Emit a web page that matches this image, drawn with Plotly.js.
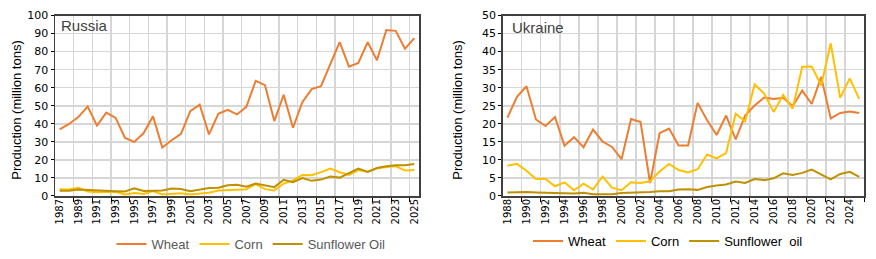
<!DOCTYPE html>
<html>
<head>
<meta charset="utf-8">
<script src="https://cdn.plot.ly/plotly-3.0.1.min.js"></script>
<style>
  html, body { margin: 0; padding: 0; background: #fff; }
  #chart { width: 876px; height: 259px; }
</style>
</head>
<body>
<div id="chart"></div>
<script>
// Grain and oilseed output, million tons
const yearsRU = [1987,1988,1989,1990,1991,1992,1993,1994,1995,1996,1997,1998,1999,2000,
  2001,2002,2003,2004,2005,2006,2007,2008,2009,2010,2011,2012,2013,2014,2015,2016,2017,
  2018,2019,2020,2021,2022,2023,2024,2025];
const wheatRU = [36.9,39.9,43.7,49.6,39.0,46.2,43.3,32.2,30.0,34.9,44.2,26.9,30.9,34.4,
  47.0,50.6,34.1,45.5,47.7,45.2,49.4,63.8,61.4,41.5,56.1,37.8,52.0,59.2,60.9,72.8,85.2,
  71.7,73.7,85.2,75.2,92.0,91.5,81.6,87.5];
const cornRU = [3.8,3.6,4.5,2.5,2.1,2.1,2.4,0.9,1.7,1.1,2.7,0.8,1.1,1.5,
  0.8,1.3,1.8,3.1,3.1,3.5,3.7,6.6,3.8,3.1,6.9,8.6,11.7,11.5,13.2,15.2,13.2,
  11.7,14.4,13.5,15.4,16.1,16.6,14.1,14.4];
const sunoilRU = [2.9,2.9,3.6,3.3,2.9,3.0,2.7,2.5,4.2,2.8,2.8,3.0,4.2,3.9,
  2.7,3.5,4.4,4.6,6.0,6.2,5.1,6.9,6.0,4.9,9.0,7.7,9.9,8.4,9.1,10.8,10.2,
  12.8,15.2,13.3,15.5,16.5,17.0,17.0,17.7];

const yearsUA = [1988,1989,1990,1991,1992,1993,1994,1995,1996,1997,1998,1999,2000,
  2001,2002,2003,2004,2005,2006,2007,2008,2009,2010,2011,2012,2013,2014,2015,2016,2017,
  2018,2019,2020,2021,2022,2023,2024,2025];
const wheatUA = [21.7,27.5,30.4,21.2,19.4,21.9,13.9,16.3,13.5,18.4,15.1,13.6,10.2,
  21.3,20.5,3.6,17.4,18.7,14.0,14.0,25.8,21.0,16.9,22.3,15.7,22.3,25.1,27.3,26.9,27.2,
  24.9,29.2,25.5,33.0,21.5,23.0,23.4,23.0];
const cornUA = [8.4,8.9,7.0,4.7,4.7,2.7,3.8,1.6,3.4,1.8,5.4,2.3,1.6,
  3.8,3.6,4.1,6.8,8.9,7.2,6.5,7.4,11.5,10.4,11.9,22.8,20.7,30.9,28.4,23.3,28.0,
  24.2,35.8,35.9,30.6,42.3,27.2,32.6,26.9];
const sunoilUA = [1.0,1.1,1.1,1.0,0.9,0.8,0.8,0.7,0.9,0.5,0.5,0.5,0.8,
  0.9,0.8,1.1,1.3,1.3,1.8,1.9,1.7,2.5,2.9,3.2,4.0,3.6,4.7,4.4,4.9,6.3,
  5.8,6.4,7.3,5.9,4.6,6.1,6.7,5.3];

const namesRU = ['Wheat', 'Corn', 'Sunflower Oil'];
const namesUA = ['Wheat', 'Corn', 'Sunflower  oil'];
const colors = ['#ED7D31', '#FFC000', '#BF9000'];
const GRID = '#d6d6d6';
const GRID_W = 1.5;

const W = 876, H = 259;
const px = v => v / W;
const py = v => 1 - v / H;

function line(x, y, name, color, xa, ya, legend) {
  return { type: 'scatter', mode: 'lines', x, y, name, xaxis: xa, yaxis: ya, legend,
    line: { color, width: 2 }, hoverinfo: 'skip' };
}

const traces = [];
// empty traces bind the companion grid and label axes so they get drawn
traces.push({ type: 'scatter', mode: 'none', x: [yearsRU[0]], y: [0], xaxis: 'x', yaxis: 'y3',
  showlegend: false, hoverinfo: 'skip' });
traces.push({ type: 'scatter', mode: 'none', x: [yearsUA[0]], y: [0], xaxis: 'x2', yaxis: 'y4',
  showlegend: false, hoverinfo: 'skip' });
traces.push({ type: 'scatter', mode: 'none', x: [yearsRU[0]], y: [0], xaxis: 'x3', yaxis: 'y',
  showlegend: false, hoverinfo: 'skip' });
traces.push({ type: 'scatter', mode: 'none', x: [yearsUA[0]], y: [0], xaxis: 'x4', yaxis: 'y2',
  showlegend: false, hoverinfo: 'skip' });
traces.push(
  line(yearsRU, wheatRU, namesRU[0], colors[0], 'x', 'y', 'legend'),
  line(yearsRU, cornRU, namesRU[1], colors[1], 'x', 'y', 'legend'),
  line(yearsRU, sunoilRU, namesRU[2], colors[2], 'x', 'y', 'legend'),
  line(yearsUA, wheatUA, namesUA[0], colors[0], 'x2', 'y2', 'legend2'),
  line(yearsUA, cornUA, namesUA[1], colors[1], 'x2', 'y2', 'legend2'),
  line(yearsUA, sunoilUA, namesUA[2], colors[2], 'x2', 'y2', 'legend2')
);

// Main x axis: ticks and vertical grid on the boundaries between every second year
function gridAxis(years, domain, anchor, withEnd) {
  const bounds = years.filter((_, i) => i % 2 === 1).map(y => y + 0.5);
  if (withEnd) bounds.push(years[years.length - 1] + 0.5);
  return {
    domain, anchor,
    range: [years[0] - 0.5, years[years.length - 1] + 0.5],
    tickmode: 'array', tickvals: bounds, ticktext: bounds.map(() => ''),
    ticks: 'outside', ticklen: 4, tickcolor: '#000', tickwidth: 1,
    showgrid: true, gridcolor: GRID, gridwidth: GRID_W,
    zeroline: false,
    showline: true, mirror: true, linecolor: '#404040', linewidth: 1.5
  };
}

// Overlaid x axis carrying the year labels, centred on their categories
function labelAxis(years, domain, anchor, over) {
  const labelled = years.filter((_, i) => i % 2 === 0);
  return {
    domain, anchor, overlaying: over, side: 'bottom',
    range: [years[0] - 0.5, years[years.length - 1] + 0.5],
    tickmode: 'array', tickvals: labelled, ticktext: labelled.map(String),
    tickangle: -90, ticks: '', showgrid: false, zeroline: false, showline: false,
    tickfont: { family: 'DejaVu Sans', size: 10, color: '#000' }
  };
}

function yAxis(max, step, domain, anchor) {
  return {
    domain, anchor,
    range: [0, max], dtick: step, tick0: 0,
    ticks: 'outside', ticklen: 3, tickcolor: '#000',
    showgrid: true, gridcolor: GRID, gridwidth: GRID_W,
    zeroline: false,
    showline: true, mirror: true, linecolor: '#404040', linewidth: 1.5,
    tickfont: { family: 'DejaVu Sans', size: 11, color: '#000' }
  };
}

// Overlaid y axis repeating the horizontal grid
function yGridAxis(max, step, domain, anchor, over) {
  return {
    domain, anchor, overlaying: over, side: 'left',
    range: [0, max], dtick: step, tick0: 0,
    showticklabels: false, ticks: '',
    showgrid: true, gridcolor: GRID, gridwidth: GRID_W,
    zeroline: false, showline: false
  };
}

const yDom = [py(198.3), py(15.7)];
const domRU = [px(55), px(419)];
const domUA = [px(502.7), px(864)];

const layout = {
  width: W, height: H,
  margin: { l: 0, r: 0, t: 0, b: 0 },
  paper_bgcolor: '#fff', plot_bgcolor: '#fff',
  showlegend: true,
  xaxis: gridAxis(yearsRU, domRU, 'y', false),
  yaxis: yAxis(100, 10, yDom, 'x'),
  xaxis2: gridAxis(yearsUA, domUA, 'y2', true),
  yaxis2: yAxis(50, 5, yDom, 'x2'),
  xaxis3: labelAxis(yearsRU, domRU, 'y', 'x'),
  xaxis4: labelAxis(yearsUA, domUA, 'y2', 'x2'),
  yaxis3: yGridAxis(100, 10, yDom, 'x', 'y'),
  yaxis4: yGridAxis(50, 5, yDom, 'x2', 'y2'),
  legend: { orientation: 'h', x: px(251), xanchor: 'center', y: py(247), yanchor: 'middle',
    font: { family: 'Liberation Sans', size: 13, color: '#595959' }, bgcolor: 'rgba(0,0,0,0)' },
  legend2: { orientation: 'h', x: px(668), xanchor: 'center', y: py(244), yanchor: 'middle',
    font: { family: 'Liberation Sans', size: 13, color: '#000' }, bgcolor: 'rgba(0,0,0,0)' },
  annotations: [
    { text: 'Russia', xref: 'paper', yref: 'paper', x: px(59), y: py(26), xanchor: 'left', yanchor: 'middle',
      showarrow: false, font: { family: 'Liberation Sans', size: 15, color: '#404040' } },
    { text: 'Ukraine', xref: 'paper', yref: 'paper', x: px(510), y: py(28), xanchor: 'left', yanchor: 'middle',
      showarrow: false, font: { family: 'Liberation Sans', size: 15, color: '#404040' } },
    { text: 'Production (million tons)', xref: 'paper', yref: 'paper', x: px(17), y: py(112), textangle: -90,
      xanchor: 'center', yanchor: 'middle', showarrow: false,
      font: { family: 'Liberation Sans', size: 13, color: '#000' } },
    { text: 'Production (million tons)', xref: 'paper', yref: 'paper', x: px(458), y: py(112), textangle: -90,
      xanchor: 'center', yanchor: 'middle', showarrow: false,
      font: { family: 'Liberation Sans', size: 13, color: '#000' } }
  ]
};

Plotly.newPlot('chart', traces, layout, { staticPlot: true, displayModeBar: false });
</script>
</body>
</html>
